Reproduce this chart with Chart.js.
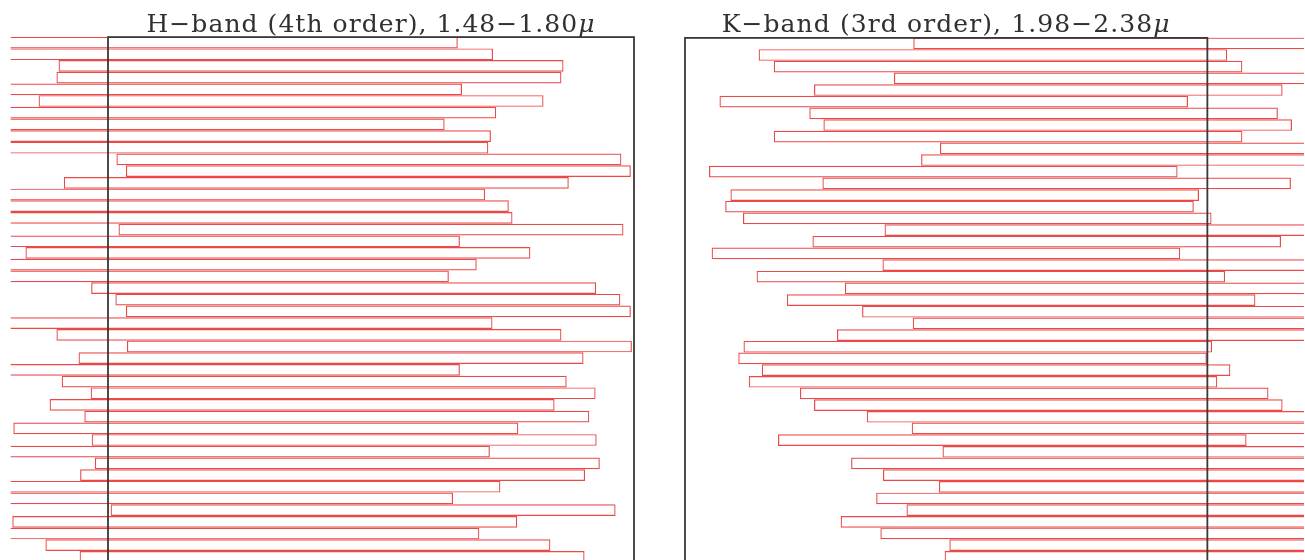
<!DOCTYPE html>
<html>
<head>
<meta charset="utf-8">
<script src="https://cdn.jsdelivr.net/npm/chart.js@4/dist/chart.umd.min.js"></script>
<style>
  html, body { margin: 0; padding: 0; background: #fff; overflow: hidden; width: 1305px; height: 560px; }
  canvas { position: absolute; top: 0; }
  #hCanvas { left: 0; }
  #kCanvas { left: 660px; }
</style>
</head>
<body>
<canvas id="hCanvas" width="660" height="570"></canvas>
<canvas id="kCanvas" width="645" height="570"></canvas>
<script>
// Echelle orders, top to bottom (x in % of detector width, 0..100 = detector frame)
const orders = ['1','2','3','4','5','6','7','8','9','10','11','12','13','14','15',
  '16','17','18','19','20','21','22','23','24','25','26','27','28','29','30',
  '31','32','33','34','35','36','37','38','39','40','41','42','43','44','45'];

// H-band (4th order) slit images: start / end of each order
const hStart = [-29.5,-22.8,-9.4,-9.8,-28.7,-13.2,-22.2,-32.0,-23.2,-23.7,1.6,3.4,-8.4,-24.3,-19.8,
  -19.1,2.0,-29.1,-15.7,-25.9,-31.2,-3.2,1.4,3.4,-22.9,-9.8,3.6,-5.6,-29.1,-8.8,
  -3.3,-11.1,-4.5,-18.0,-3.1,-23.4,-2.5,-5.3,-21.4,-30.4,0.5,-18.2,-25.4,-11.9,-5.4];
const hEnd = [66.5,73.2,86.6,86.2,67.3,82.8,73.8,64.0,72.8,72.3,97.6,99.4,87.6,71.7,76.2,
  76.9,98.0,66.9,80.3,70.1,64.8,92.8,97.4,99.4,73.1,86.2,99.6,90.4,66.9,87.2,
  92.7,84.9,91.5,78.0,92.9,72.6,93.5,90.7,74.6,65.6,96.5,77.8,70.6,84.1,90.6];

// K-band (3rd order)
const kStart = [43.7,14.1,17.0,40.0,24.7,6.6,23.8,26.5,17.0,48.8,45.2,4.6,26.3,8.7,7.7,
  11.1,38.2,24.4,5.1,37.8,13.7,30.6,19.5,33.9,43.6,29.1,11.2,10.2,14.7,12.2,
  22.0,24.7,34.8,43.4,17.8,49.3,31.8,37.9,48.6,36.6,42.4,29.8,37.4,50.6,49.7];
const kEnd = [133.4,103.8,106.7,129.7,114.4,96.3,113.5,116.2,106.7,138.5,134.9,94.3,116.0,98.4,97.4,
  100.8,127.9,114.1,94.8,127.5,103.4,120.3,109.2,123.6,133.3,118.8,100.9,99.9,104.4,101.9,
  111.7,114.4,124.5,133.1,107.5,139.0,121.5,127.6,138.3,126.3,132.1,119.5,127.1,140.3,139.4];

const hTitle = 'H\u2212band (4th order), 1.48\u22121.80';
const kTitle = 'K\u2212band (3rd order), 1.98\u22122.38';
const unitLabel = '\u03bc';

// Detector frame: open box from 0 to 100 on the x scale
const framePlugin = {
  id: 'detectorFrame',
  afterDatasetsDraw(chart) {
    const { ctx, chartArea, scales: { x } } = chart;
    const x0 = x.getPixelForValue(0);
    const x1 = x.getPixelForValue(100);
    ctx.save();
    ctx.strokeStyle = '#383838';
    ctx.lineWidth = 1.8;
    ctx.strokeRect(x0, chartArea.top + 0.4, x1 - x0, chart.height + 40);
    ctx.restore();
  }
};

// Band title centred over the detector frame, with an italic micron sign
const titlePlugin = {
  id: 'bandTitle',
  afterDraw(chart, args, opts) {
    const { ctx, scales: { x } } = chart;
    const cx = (x.getPixelForValue(0) + x.getPixelForValue(100)) / 2;
    const size = 25, target = 449;
    const upright = size + 'px "DejaVu Serif", "Liberation Serif", serif';
    const italic = 'italic ' + upright;
    ctx.save();
    ctx.fillStyle = '#303030';
    ctx.textBaseline = 'alphabetic';
    ctx.letterSpacing = '0px';
    ctx.font = upright;
    const n1 = ctx.measureText(opts.text).width;
    ctx.font = italic;
    const n2 = ctx.measureText(unitLabel).width;
    const chars = opts.text.length + unitLabel.length;
    const spacing = (target - n1 - n2) / chars;
    ctx.letterSpacing = spacing + 'px';
    ctx.font = upright;
    const w1 = ctx.measureText(opts.text).width;
    ctx.font = italic;
    const w2 = ctx.measureText(unitLabel).width;
    const start = cx - (w1 + w2) / 2;
    ctx.font = upright;
    ctx.fillText(opts.text, start, 31.5);
    ctx.font = italic;
    ctx.fillText(unitLabel, start + w1, 31.5);
    ctx.restore();
  }
};

function bandChart(id, starts, ends, cfg) {
  return new Chart(document.getElementById(id), {
    type: 'bar',
    data: {
      labels: orders,
      datasets: [{
        data: starts.map((s, i) => [s, ends[i]]),
        borderColor: 'rgba(232,40,40,0.85)',
        backgroundColor: 'rgba(255,255,255,0)',
        borderWidth: 1.2,
        borderSkipped: false,
        inflateAmount: 0,
        barPercentage: 1,
        categoryPercentage: 1
      }]
    },
    options: {
      indexAxis: 'y',
      responsive: false,
      animation: false,
      events: [],
      layout: { padding: cfg.padding },
      scales: {
        x: { type: 'linear', display: false, min: cfg.min, max: cfg.max },
        y: { display: false, offset: true }
      },
      plugins: {
        legend: { display: false },
        tooltip: { enabled: false },
        title: { display: false },
        bandTitle: { text: cfg.title }
      }
    },
    plugins: [framePlugin, titlePlugin]
  });
}

bandChart('hCanvas', hStart, hEnd, {
  min: -18.5, max: 100, title: hTitle,
  padding: { left: 10.7, right: 26, top: 36.7, bottom: 7.25 }
});
bandChart('kCanvas', kStart, kEnd, {
  min: 0, max: 118.5, title: kTitle,
  padding: { left: 25, right: 1, top: 37.5, bottom: 7.35 }
});
</script>
</body>
</html>
